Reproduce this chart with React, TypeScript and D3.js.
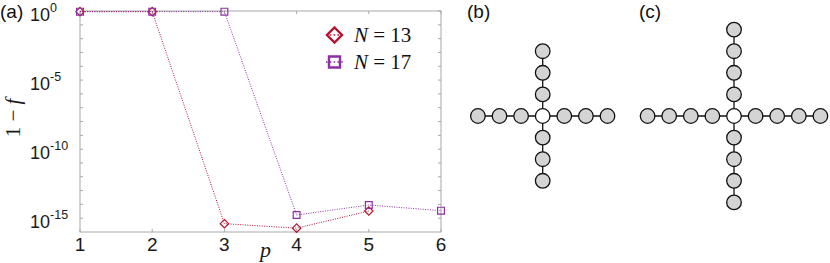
import React, { useEffect, useRef } from 'react';
import * as d3 from 'd3';

// p = number of layers
const pValues = [1, 2, 3, 4, 5, 6];
const infidN13 = [0.9, 0.9, 4e-16, 1.9e-16, 3.3e-15];
const infidN17 = [0.9, 0.9, 0.9, 1.7e-15, 9e-15, 3.5e-15];
const yTickExps = [0, -5, -10, -15];
const legendLabels = ['13', '17'];
// star graphs: nodes per arm
const armsB = 3;
const armsC = 4;

const W = 830;
const H = 263;

const App = () => {
  const ref = useRef<SVGSVGElement>(null);

  useEffect(() => {
    const svg = d3.select(ref.current);
    svg.selectAll('*').remove();

    const x = d3.scaleLinear().domain([1, 6]).range([80, 441]);
    const y = d3.scaleLog().domain([1e-16, 1]).range([232, 11]);
    const axisCol = '#a8a8a8';
    const red = '#b5122f';
    const purple = '#8e2fa3';
    const sans = 'Liberation Sans, Arial, sans-serif';
    const serif = 'Liberation Serif, Times New Roman, serif';

    const g = svg.append('g');

    // frame
    g.append('rect')
      .attr('x', x(1)).attr('y', y(1))
      .attr('width', x(6) - x(1)).attr('height', y(1e-16) - y(1))
      .attr('fill', 'none').attr('stroke', axisCol).attr('stroke-width', 1);

    // y ticks each decade, both sides
    const decades = d3.range(-15, 1).map(e => Math.pow(10, e));
    decades.forEach(v => {
      g.append('line').attr('x1', x(1)).attr('x2', x(1) + 3)
        .attr('y1', y(v)).attr('y2', y(v)).attr('stroke', axisCol);
      g.append('line').attr('x1', x(6)).attr('x2', x(6) - 3)
        .attr('y1', y(v)).attr('y2', y(v)).attr('stroke', axisCol);
    });
    pValues.forEach(p => {
      g.append('line').attr('x1', x(p)).attr('x2', x(p))
        .attr('y1', y(1e-16)).attr('y2', y(1e-16) - 3).attr('stroke', axisCol);
      g.append('line').attr('x1', x(p)).attr('x2', x(p))
        .attr('y1', y(1)).attr('y2', y(1) + 3).attr('stroke', axisCol);
      g.append('text').attr('x', x(p)).attr('y', 251)
        .attr('text-anchor', 'middle')
        .attr('font-family', sans)
        .attr('font-size', 19).attr('fill', '#1a1a1a')
        .text(p);
    });

    // y tick labels 10^e (left aligned)
    yTickExps.forEach(e => {
      const t = g.append('text')
        .attr('x', 30).attr('y', y(Math.pow(10, e)) + 10)
        .attr('font-family', sans)
        .attr('font-size', 18).attr('fill', '#1a1a1a');
      t.append('tspan').text('10');
      t.append('tspan').attr('dy', -9).attr('font-size', 12.5).text(e);
    });

    // axis labels
    const yl = g.append('text')
      .attr('transform', 'translate(20,118) rotate(-90)')
      .attr('text-anchor', 'middle')
      .attr('font-family', serif)
      .attr('font-size', 21).attr('fill', '#1a1a1a');
    yl.append('tspan').text('1 − ');
    yl.append('tspan').attr('font-style', 'italic').text('f');

    g.append('text').attr('x', 260).attr('y', 257)
      .attr('font-family', serif)
      .attr('font-style', 'italic').attr('font-size', 22).attr('fill', '#1a1a1a')
      .text('p');

    // series
    const line = d3.line<number>()
      .x((d, i) => x(pValues[i]))
      .y(d => y(d));

    const diamond = (s: number) => `M0,${-s}L${s},0L0,${s}L${-s},0Z`;
    const square = (s: number) => `M${-s},${-s}H${s}V${s}H${-s}Z`;

    const series = [
      { data: infidN13, color: red, shape: diamond, size: 4.2 },
      { data: infidN17, color: purple, shape: square, size: 3.4 },
    ];

    series.forEach(s => {
      g.append('path').datum(s.data)
        .attr('d', line)
        .attr('fill', 'none').attr('stroke', s.color)
        .attr('stroke-width', 1).attr('stroke-dasharray', '1,1.4');
      g.selectAll(null).data(s.data).enter().append('path')
        .attr('transform', (d, i) => `translate(${x(pValues[i])},${y(d)})`)
        .attr('d', s.shape(s.size))
        .attr('fill', 'none').attr('stroke', s.color).attr('stroke-width', 1.2);
    });

    // legend
    const legend = g.append('g');
    const legendShapes = [
      { color: red, shape: diamond(7.5), sw: 2.4 },
      { color: purple, shape: square(5.5), sw: 2.4 },
    ];
    legendLabels.forEach((lab, i) => {
      const cy = 35 + i * 27;
      const ls = legendShapes[i];
      legend.append('line').attr('x1', 326).attr('x2', 344)
        .attr('y1', cy).attr('y2', cy)
        .attr('stroke', ls.color).attr('stroke-width', 1.6)
        .attr('stroke-dasharray', '1.6,2.2');
      legend.append('path').attr('transform', `translate(334.5,${cy})`)
        .attr('d', ls.shape).attr('fill', 'none')
        .attr('stroke', ls.color).attr('stroke-width', ls.sw);
      const t = legend.append('text').attr('x', 354).attr('y', cy + 7)
        .attr('font-family', serif)
        .attr('font-size', 21).attr('fill', '#111')
        .attr('xml:space', 'preserve');
      t.append('tspan').attr('font-style', 'italic').text('N');
      t.append('tspan').text(' = ' + lab);
    });

    // panel labels
    [['(a)', 0], ['(b)', 467], ['(c)', 639]].forEach(([lab, lx]) => {
      svg.append('text').attr('x', lx as number).attr('y', 18)
        .attr('font-family', sans)
        .attr('font-size', 19).attr('fill', '#111')
        .text(lab as string);
    });

    // star graphs
    const drawStar = (cx: number, cy: number, arm: number) => {
      const off = d3.scaleLinear().domain([0, 1]).range([0, 21.6]);
      const gg = svg.append('g').attr('transform', `translate(${cx},${cy})`);
      const dirs = [[1, 0], [-1, 0], [0, 1], [0, -1]];
      const nodes: { x: number; y: number; c: boolean }[] = [{ x: 0, y: 0, c: true }];
      dirs.forEach(([dx, dy]) => {
        d3.range(1, arm + 1).forEach(k => nodes.push({ x: off(k * dx), y: off(k * dy), c: false }));
      });
      dirs.forEach(([dx, dy]) => {
        gg.append('line').attr('x1', 0).attr('y1', 0)
          .attr('x2', off(arm * dx)).attr('y2', off(arm * dy))
          .attr('stroke', '#111').attr('stroke-width', 1.3);
      });
      gg.selectAll('circle').data(nodes).enter().append('circle')
        .attr('cx', d => d.x).attr('cy', d => d.y).attr('r', 7.3)
        .attr('fill', d => (d.c ? '#fff' : '#d4d4d4'))
        .attr('stroke', '#111').attr('stroke-width', 1.3);
    };
    drawStar(542.7, 116, armsB);
    drawStar(734, 116, armsC);
  }, []);

  return (
    <svg ref={ref} width={W} height={H}
      style={{ position: 'absolute', left: 0, top: 0, background: '#fff' }} />
  );
};

export default App;
